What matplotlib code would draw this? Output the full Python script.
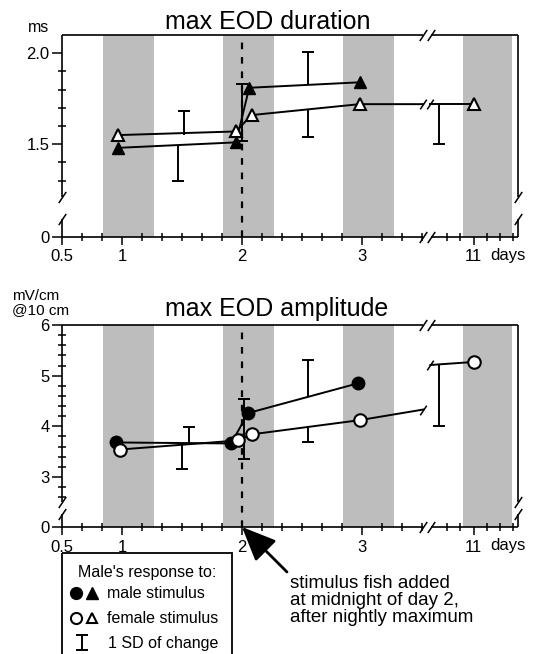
import numpy as np
import matplotlib.pyplot as plt
from matplotlib.patches import Rectangle

plt.rcParams['font.family'] = ['Liberation Sans', 'DejaVu Sans']

W, H = 536, 654

# days after the x-axis break are pulled in next to day 3
BREAK_SHIFT = 7.07
X_GAP = (3.51, 3.575)
X_MAX = 4.30


def to_axis(days):
    days = np.asarray(days, dtype=float)
    return np.where(days > 5, days - BREAK_SHIFT, days)


stim_day = 2.0
night_start = [0.84, 1.84, 2.84, 10.91]
night_end = [1.265, 2.265, 3.265, 11.32]

# ---- max EOD duration (ms)
dur_male_days = [0.97, 1.95, 2.06, 2.98]
dur_male = [1.48, 1.51, 1.81, 1.84]
dur_female_days = [0.97, 1.95, 2.08, 2.98]
dur_female = [1.55, 1.57, 1.66, 1.72]
dur_female_tail = (3.51, 1.72)
dur_female_late_days = [10.64, 11.0]
dur_female_late = [1.72, 1.72]
dur_sd_days = [1.47, 1.52, 2.0, 2.0, 2.55, 2.55, 10.71]
dur_sd_from = [1.49, 1.55, 1.67, 1.67, 1.826, 1.69, 1.72]
dur_sd_to = [1.30, 1.68, 1.83, 1.52, 2.005, 1.54, 1.50]

# ---- max EOD amplitude (mV/cm @ 10 cm)
amp_male_days = [0.95, 1.91, 2.05, 2.97]
amp_male = [3.68, 3.66, 4.26, 4.85]
amp_female_days = [0.98, 1.97, 2.08, 2.98]
amp_female = [3.54, 3.72, 3.84, 4.12]
amp_female_tail = (3.51, 4.33)
amp_female_late_days = [10.64, 11.0]
amp_female_late = [5.21, 5.27]
amp_sd_days = [1.56, 1.50, 2.02, 2.02, 2.55, 2.55, 10.71]
amp_sd_from = [3.66, 3.63, 3.95, 3.95, 4.58, 3.99, 5.21]
amp_sd_to = [3.98, 3.15, 4.53, 3.35, 5.31, 3.68, 4.00]

x_major = [0.5, 1, 2, 3, 11]
x_major_labels = ['0.5', '1', '2', '3', '11']

GRAY = '#bdbdbd'
FS_TICK = 12


def draw_frame(ax, ygap):
    x0, x1 = ax.get_xlim()
    y0, y1 = ax.get_ylim()
    for s in ax.spines.values():
        s.set_visible(False)
    kw = dict(color='black', lw=1.2, clip_on=False, solid_capstyle='butt', zorder=5)
    mk = dict(ls='none', marker=[(-1, -1.5), (1, 1.5)], ms=8, mec='black', mew=1.1,
              clip_on=False, zorder=6)
    for y in (y0, y1):
        ax.plot([x0, X_GAP[0]], [y, y], **kw)
        ax.plot([X_GAP[1], x1], [y, y], **kw)
        ax.plot(X_GAP, [y, y], **mk)
    for x in (x0, x1):
        ax.plot([x, x], [y0, ygap[0]], **kw)
        ax.plot([x, x], [ygap[1], y1], **kw)
        ax.plot([x, x], ygap, **mk)


def setup_panel(ax, ylim, yticks, ylabels, yminor, ygap):
    ax.set_xlim(0.5, X_MAX)
    ax.set_ylim(*ylim)
    for s, e in zip(night_start, night_end):
        ax.axvspan(to_axis(s), to_axis(e), color=GRAY, lw=0, zorder=0)
    ax.axvline(stim_day, color='black', lw=1.6, ls=(0, (3, 3.5)), zorder=1)

    ax.set_xticks(to_axis(x_major))
    ax.set_xticklabels(x_major_labels)
    early = np.arange(0.5, 3.51, 1 / 6)
    late = [3.71, 3.82, 4.04, 4.15, 4.26]
    ax.set_xticks(list(early) + late, minor=True)
    ax.set_yticks(yticks)
    ax.set_yticklabels(ylabels)
    ax.set_yticks(yminor, minor=True)
    ax.tick_params(axis='both', which='both', labelsize=FS_TICK, width=1.1, color='black')
    ax.tick_params(axis='x', which='major', direction='out', length=6, pad=3)
    ax.tick_params(axis='x', which='minor', direction='inout', length=6)
    ax.tick_params(axis='y', which='major', direction='out', length=7, pad=2)
    ax.tick_params(axis='y', which='minor', direction='inout', length=6)
    ax.text(490 / 456 - 62 / 456, -0.052, 'days', transform=ax.transAxes, fontsize=FS_TICK,
            ha='left', va='top')
    draw_frame(ax, ygap)


def plot_series(ax, days, vals, tail, late_days, late_vals, sd_days, sd_from, sd_to,
                male_days, male_vals, marker, ms):
    line = dict(color='black', lw=1.4, zorder=3)
    # SD bars
    ax.vlines(to_axis(sd_days), sd_from, sd_to, color='black', lw=1.4, zorder=2)
    ax.plot(to_axis(sd_days), sd_to, ls='none', marker='_', ms=9, mew=1.4,
            color='black', zorder=2)
    # female: open markers, line runs into the axis break
    ax.plot(to_axis(days + [tail[0]]), vals + [tail[1]], **line)
    ax.plot(to_axis(days), vals, ls='none', marker=marker, ms=ms, mfc='white',
            mec='black', mew=1.5, zorder=4)
    ax.plot(to_axis(late_days), late_vals, **line)
    ax.plot(to_axis(late_days[-1:]), late_vals[-1:], ls='none', marker=marker, ms=ms,
            mfc='white', mec='black', mew=1.5, zorder=4)
    # male: filled markers
    ax.plot(to_axis(male_days), male_vals, marker=marker, ms=ms, mfc='black',
            mec='black', **line)
    # break slashes on the data line
    brk = dict(ls='none', marker=[(-1, -1.5), (1, 1.5)], ms=7, mec='black', mew=1.1, zorder=4)
    ax.plot(to_axis([tail[0], late_days[0]]), [tail[1], late_vals[0]], **brk)


fig = plt.figure(figsize=(W / 100, H / 100), dpi=100)
ax_dur = fig.add_axes([62 / W, 1 - 237 / H, 456 / W, 202 / H])
ax_amp = fig.add_axes([62 / W, 1 - 527 / H, 456 / W, 202 / H])

setup_panel(ax_dur, (0.99, 2.10), [0.99, 1.5, 2.0], ['0', '1.5', '2.0'],
            [1.3, 1.4, 1.6, 1.7, 1.8, 1.9], (1.09, 1.21))
plot_series(ax_dur, dur_female_days, dur_female, dur_female_tail, dur_female_late_days,
            dur_female_late, dur_sd_days, dur_sd_from, dur_sd_to,
            dur_male_days, dur_male, '^', 8)

amp_minor = [v for v in np.round(np.arange(2.6, 6.0, 0.2), 1) if v not in (3.0, 4.0, 5.0)]
setup_panel(ax_amp, (2.01, 6.0), [2.01, 3, 4, 5, 6], ['0', '3', '4', '5', '6'],
            amp_minor, (2.27, 2.50))
plot_series(ax_amp, amp_female_days, amp_female, amp_female_tail, amp_female_late_days,
            amp_female_late, amp_sd_days, amp_sd_from, amp_sd_to,
            amp_male_days, amp_male, 'o', 9)

# titles and units
fig.text(165 / W, 1 - 29 / H, 'max EOD duration', fontsize=18, va='baseline')
fig.text(165 / W, 1 - 316 / H, 'max EOD amplitude', fontsize=18, va='baseline')
fig.text(28 / W, 1 - 32 / H, 'ms', fontsize=11.5, va='baseline')
fig.text(12 / W, 1 - 300 / H, 'mV/cm', fontsize=11, va='baseline')
fig.text(12 / W, 1 - 314 / H, '@10 cm', fontsize=11, va='baseline')

# arrow to the stimulus time
ax_amp.annotate('', xy=(stim_day, 2.01), xycoords='data',
                xytext=(287, H - 572), textcoords='figure pixels',
                arrowprops=dict(arrowstyle='-|>,head_length=1.5,head_width=0.65',
                                mutation_scale=14, lw=2, color='black',
                                shrinkA=0, shrinkB=0), annotation_clip=False)
fig.text(290 / W, 1 - 575 / H,
         'stimulus fish added\nat midnight of day 2,\nafter nightly maximum',
         fontsize=13.5, va='top', linespacing=1.0)

# legend box
ax_leg = fig.add_axes([0, 0, 1, 1], facecolor='none')
ax_leg.set_xlim(0, W)
ax_leg.set_ylim(H, 0)
ax_leg.axis('off')
ax_leg.add_patch(Rectangle((62, 553), 170, 120, fill=False, ec='black', lw=1.3,
                           clip_on=False))
ax_leg.text(147, 577, "Male's response to:", fontsize=11.5, ha='center', va='baseline')
ax_leg.plot([76], [593], 'o', ms=8.5, color='black')
ax_leg.plot([92], [593], '^', ms=8, color='black')
ax_leg.text(107, 598, 'male stimulus', fontsize=11.5, va='baseline')
ax_leg.plot([76], [618], 'o', ms=8, mfc='white', mec='black', mew=1.5)
ax_leg.plot([92], [618], '^', ms=7.5, mfc='white', mec='black', mew=1.5)
ax_leg.text(107, 623, 'female stimulus', fontsize=11.5, va='baseline')
ax_leg.vlines(82, 635, 650, color='black', lw=1.4)
ax_leg.plot([82, 82], [635, 650], ls='none', marker='_', ms=9, mew=1.4, color='black')
ax_leg.text(108, 648, '1 SD of change', fontsize=11.5, va='baseline')

fig.savefig('out.png', dpi=100)
